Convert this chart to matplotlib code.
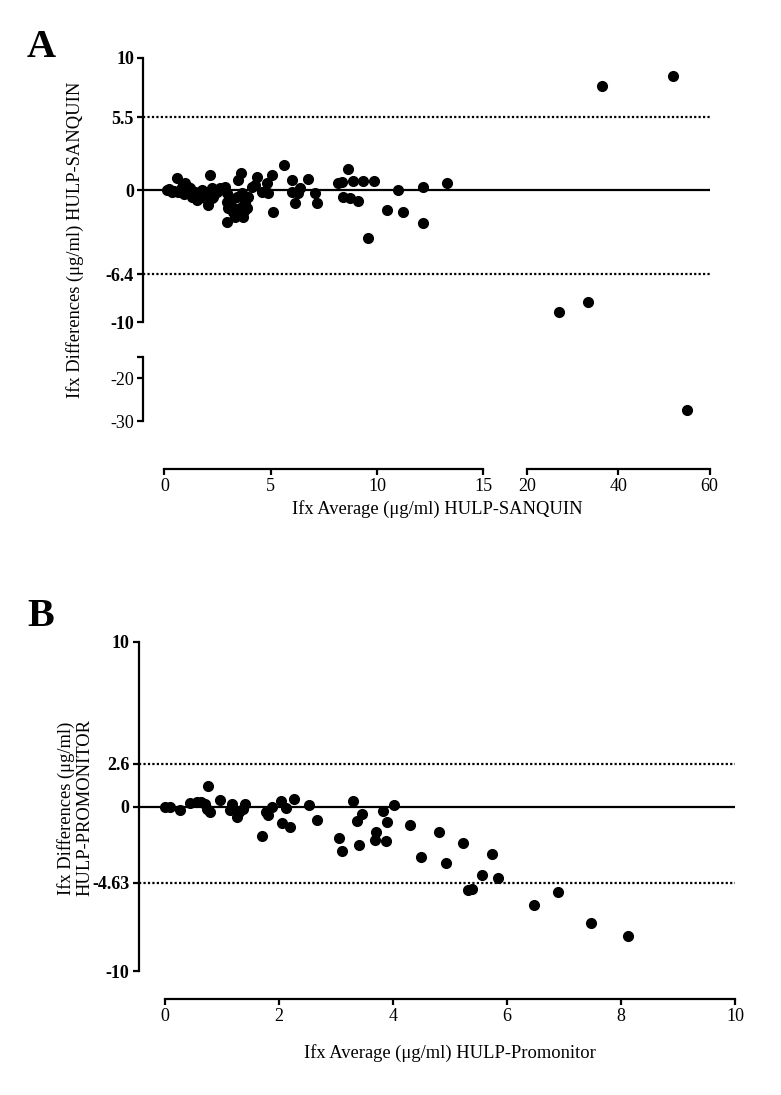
import numpy as np
import matplotlib.pyplot as plt
from matplotlib.spines import Spine

plt.rcParams['font.family'] = ['Liberation Serif', 'DejaVu Serif']

# panel A: HULP vs SANQUIN (average, difference)
avg_a = [0.10, 0.34, 0.57, 0.65, 0.81, 0.96, 1.04, 1.20, 1.28, 1.44, 1.52, 1.67, 1.75,
         1.91, 2.06, 2.14, 2.22, 2.30, 2.46, 2.61, 2.85, 2.93, 2.93, 3.00, 2.93, 3.08,
         3.24, 3.32, 3.40, 3.47, 3.55, 3.60, 3.63, 3.71, 3.79, 3.87, 3.94, 4.10, 4.26,
         4.34, 4.57, 4.81, 4.88, 5.04, 5.12, 5.62, 5.99, 5.99, 6.14, 6.30, 6.38, 6.77,
         7.08, 7.19, 8.18, 8.34, 8.41, 8.65, 8.73, 8.86, 9.12, 9.36, 9.59, 9.87, 10.46,
         11.00, 11.21, 12.15, 12.15, 13.31,
         0.20, 0.45, 0.90, 1.10, 1.35, 1.60, 2.00, 2.22, 3.15, 3.75,
         36.4, 52.0, 26.9, 33.3, 55.1]
diff_a = [0.00, -0.13, 0.89, -0.13, 0.25, 0.51, -0.25, 0.13, -0.51, -0.13, -0.76, -0.38, 0.00,
          -0.63, -1.14, 1.14, 0.13, -0.51, -0.13, 0.13, 0.25, -0.25, -0.89, -1.39, -2.40, -0.63,
          -1.64, -2.02, -0.51, 0.76, -1.39, 1.27, -0.25, -2.02, -1.01, -1.39, -0.51, 0.25, 0.38,
          1.01, -0.13, 0.51, -0.25, 1.14, -1.64, 1.89, 0.76, -0.13, -1.01, -0.25, 0.13, 0.81,
          -0.25, -1.01, 0.55, 0.63, -0.51, 1.57, -0.58, 0.70, -0.81, 0.70, -3.61, 0.70, -1.52,
          0.00, -1.69, 0.25, -2.48, 0.51,
          0.05, -0.10, -0.30, 0.20, -0.30, -0.55, -0.30, -0.63, -1.10, -1.60,
          7.88, 8.64, -9.24, -8.48, -27.4]
mean_a = 0
loa_a = [5.5, -6.4]
xticks_a = [0, 5, 10, 15, 20, 40, 60]
yticks_a = [-30, -20, -15, -10, -6.4, 0, 5.5, 10]
ylabels_a = ['-30', '-20', '', '-10', '-6.4', '0', '5.5', '10']

# panel B: HULP vs Promonitor
avg_b = [0.00, 0.09, 0.26, 0.44, 0.56, 0.64, 0.70, 0.73, 0.76, 0.79, 0.96, 1.14, 1.17,
         1.26, 1.29, 1.37, 1.40, 1.70, 1.78, 1.81, 1.87, 2.05, 2.04, 2.13, 2.19, 2.27,
         2.53, 2.66, 3.30, 3.45, 3.37, 3.82, 4.02, 3.89, 3.71, 3.68, 3.87, 3.05, 3.11,
         3.40, 4.30, 4.49, 4.81, 4.93, 5.23, 5.73, 5.57, 5.84, 5.32, 5.38, 6.48, 6.90,
         7.47, 8.12]
diff_b = [0.00, -0.02, -0.18, 0.22, 0.28, 0.28, 0.18, -0.12, 1.24, -0.32, 0.38, -0.22, 0.18,
          -0.62, -0.32, -0.12, 0.18, -1.78, -0.32, -0.52, -0.02, -1.02, 0.32, -0.08, -1.22, 0.48,
          0.08, -0.82, 0.34, -0.42, -0.86, -0.26, 0.08, -0.92, -1.52, -2.02, -2.08, -1.92, -2.70,
          -2.32, -1.12, -3.04, -1.56, -3.44, -2.18, -2.88, -4.18, -4.32, -5.08, -4.98, -6.00, -5.17,
          -7.09, -7.85]
mean_b = 0
loa_b = [2.6, -4.63]
xticks_b = [0, 2, 4, 6, 8, 10]
yticks_b = [-10, -4.63, 0, 2.6, 10]
ylabels_b = ['-10', '-4.63', '0', '2.6', '10']

W, H = 781, 1095
fig = plt.figure(figsize=(W / 100, H / 100), dpi=100)


def box(l, t, r, b):
    return [l / W, 1 - b / H, (r - l) / W, (b - t) / H]


# broken axes for panel A done with piecewise linear scales
xk = np.array([-50, 0, 15, 20, 60, 300])
xp = np.array([164.5 - 50 * 21.25, 164.5, 483.3, 527.5, 709.5, 709.5 + 240 * 4.55])
yk = np.array([-300, -30, -15, -10, 10, 300])
yp = np.array([-(421 + 270 * 4.3), -421, -356.5, -322, -58, -(58 - 290 * 13.2)])

lw = 1.6
ax = fig.add_axes(box(143, 58, 709.5, 469))
ax.set_xscale('function', functions=(lambda v: np.interp(v, xk, xp), lambda p: np.interp(p, xp, xk)))
ax.set_yscale('function', functions=(lambda v: np.interp(v, yk, yp), lambda p: np.interp(p, yp, yk)))
ax.set_xlim(-1.01, 60)
ax.set_ylim(-41.16, 10)

ax.axhline(mean_a, color='black', lw=lw)
for v in loa_a:
    ax.axhline(v, color='black', lw=lw, ls=(0, (1, 1)))
ax.plot(avg_a, diff_a, 'o', color='black', ms=7, clip_on=False)

for s in ['top', 'right']:
    ax.spines[s].set_visible(False)
ax.spines['left'].set_bounds(-10, 10)
ax.spines['bottom'].set_bounds(0, 15)
low = Spine.linear_spine(ax, 'left')
low.set_position(('outward', 0))
low.set_bounds(-30, -15)
ax.spines['left_low'] = low
right = Spine.linear_spine(ax, 'bottom')
right.set_position(('outward', 0))
right.set_bounds(20, 60)
ax.spines['bottom_right'] = right
for s in ax.spines.values():
    s.set_linewidth(lw)
    s.set_color('black')

ax.set_xticks(xticks_a)
ax.set_xticklabels([str(t) for t in xticks_a])
ax.set_yticks(yticks_a)
ax.set_yticklabels(ylabels_a)
ax.tick_params(direction='out', length=4.5, width=lw, labelsize=13, pad=2)
for lab, t in zip(ax.get_yticklabels(), yticks_a):
    if t > -12:
        lab.set_fontweight('bold')

fig.text(27 / W, 1 - 29 / H, 'A', fontsize=29, fontweight='bold', va='top')
fig.text(75 / W, 1 - 240 / H, 'Ifx Differences (μg/ml) HULP-SANQUIN', rotation=90,
         ha='center', va='center', fontsize=13.3)
fig.text(437 / W, 1 - 509 / H, 'Ifx Average (μg/ml) HULP-SANQUIN', ha='center', va='center', fontsize=13.3)

# panel B
bx = fig.add_axes(box(138.5, 642, 735, 999))
bx.set_xlim(-0.465, 10)
bx.set_ylim(-11.68, 10)
bx.axhline(mean_b, color='black', lw=lw)
for v in loa_b:
    bx.axhline(v, color='black', lw=lw, ls=(0, (1, 1)))
bx.plot(avg_b, diff_b, 'o', color='black', ms=7, clip_on=False)
for s in ['top', 'right']:
    bx.spines[s].set_visible(False)
bx.spines['left'].set_bounds(-10, 10)
bx.spines['bottom'].set_bounds(0, 10)
for s in bx.spines.values():
    s.set_linewidth(lw)
bx.set_xticks(xticks_b)
bx.set_xticklabels([str(t) for t in xticks_b])
bx.set_yticks(yticks_b)
bx.set_yticklabels(ylabels_b, fontweight='bold')
bx.tick_params(direction='out', length=4.5, width=lw, labelsize=13, pad=2)

fig.text(27 / W, 1 - 598 / H, 'B', fontsize=29, fontweight='bold', va='top')
fig.text(75 / W, 1 - 808 / H, 'Ifx Differences (μg/ml)\nHULP-PROMONITOR', rotation=90,
         ha='center', va='center', fontsize=13.3, multialignment='center', linespacing=1.1)
fig.text(450 / W, 1 - 1053 / H, 'Ifx Average (μg/ml) HULP-Promonitor', ha='center', va='center', fontsize=13.3)

fig.savefig('out.png', dpi=100)
